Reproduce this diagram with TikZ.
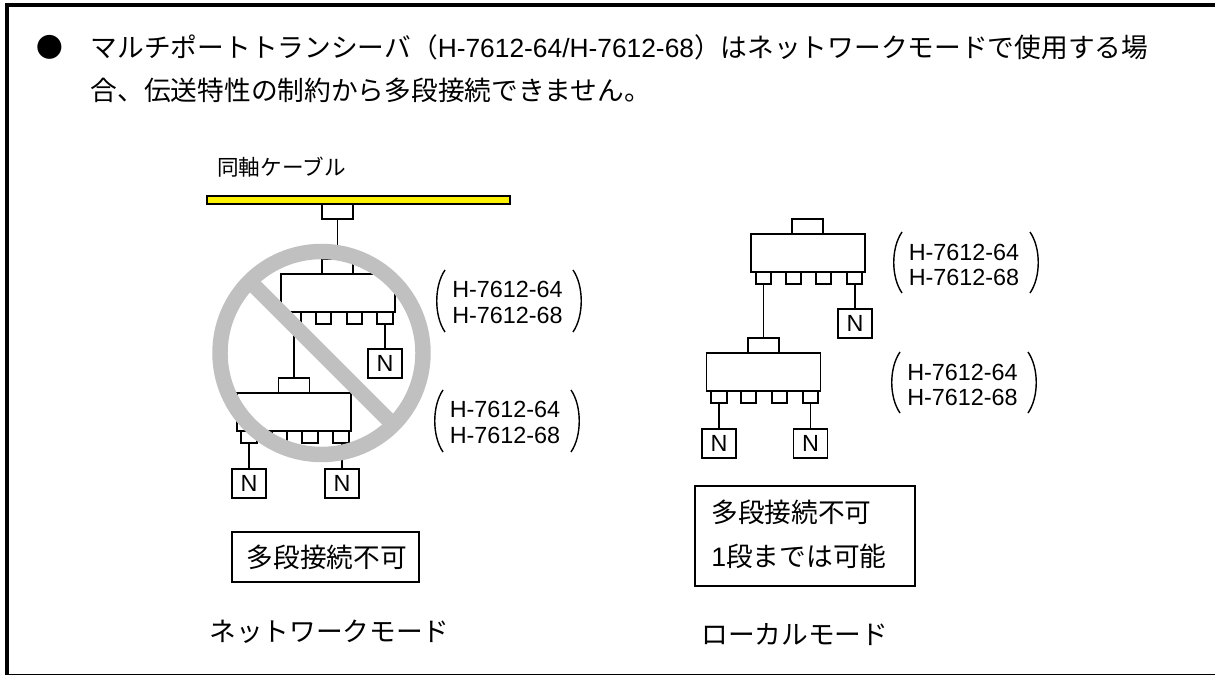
\documentclass[tikz,border=0pt]{standalone}
\usepackage{fontspec}
\setmainfont{Liberation Sans}
\newfontfamily\jp{Noto Sans CJK JP}
\definecolor{signgray}{RGB}{192,192,192}
\tikzset{
  modbox/.style={draw=black,line width=1pt,fill=white,inner sep=0pt,minimum width=2.28cm,minimum height=0.76cm},
  tabbox/.style={draw=black,line width=1pt,fill=white,inner sep=0pt,minimum width=0.62cm,minimum height=0.30cm},
  portbox/.style={draw=black,line width=1pt,fill=white,inner sep=0pt,minimum width=0.31cm,minimum height=0.24cm},
  nbox/.style={draw=black,line width=1pt,fill=white,inner sep=0pt,minimum width=0.68cm,minimum height=0.58cm,font=\fontsize{13.3}{14}\selectfont},
  notebox/.style={draw=black,line width=1pt,inner sep=0pt},
  wire/.style={draw=black,line width=1.1pt},
  paren/.style={draw=black,line width=0.8pt},
  bodytext/.style={anchor=base west,inner sep=0pt,font=\fontsize{15.2}{16}\selectfont},
  typetext/.style={inner sep=0pt,align=center,font=\fontsize{13.3}{14.6}\selectfont},
}
\begin{document}
\begin{tikzpicture}[x=0.02cm,y=-0.02cm]
\useasboundingbox (0,0) rectangle (1215,675);
% frame
\draw[line width=2.27pt] (7,675) -- (7,5) -- (1215,5);
\draw[line width=0.9pt] (7,674.5) -- (1215,674.5);
% text at the top
\node[bodytext] (bullet) at (36,57.5) {\jp ●};
\node[bodytext] (line1) at (90.5,57.5) {{\jp マルチポートトランシーバ（}{\fontsize{15}{16}\selectfont H-7612-64/H-7612-68}{\jp ）はネットワークモードで使用する場}};
\node[bodytext] (line2) at (90.5,101) {\jp 合、伝送特性の制約から多段接続できません。};
% network mode
\node[anchor=base west,inner sep=0pt,font=\fontsize{12.3}{13}\selectfont] (coaxlabel) at (217,176) {\jp 同軸ケーブル};
\node[draw=black,line width=1pt,fill=yellow,inner sep=0pt,minimum width=6.06cm,minimum height=0.16cm] (coax) at (358.5,200) {};
\node[tabbox] (tap) at (337.5,211.5) {};
\node[tabbox] (tab1) at (337.5,267) {};
\node[modbox] (mod1) at (338,293) {};
\node[portbox] (p11) at (293,318) {};
\node[portbox] (p12) at (323.5,318) {};
\node[portbox] (p13) at (354.5,318) {};
\node[portbox] (p14) at (385,318) {};
\node[nbox] (n1) at (385,363.5) {N};
\node[tabbox] (tab2) at (294,385.5) {};
\node[modbox] (mod2) at (294,412) {};
\node[portbox] (p21) at (249,437) {};
\node[portbox] (p22) at (279.5,437) {};
\node[portbox] (p23) at (310,437) {};
\node[portbox] (p24) at (341,437) {};
\node[nbox] (n2) at (249,483.5) {N};
\node[nbox] (n3) at (342,483.5) {N};
\draw[wire] (tap) -- (tab1);
\draw[wire] (p14) -- (n1);
\draw[wire] (p11.south -| tab2) -- (tab2);
\draw[wire] (p21) -- (n2);
\draw[wire] (p24.south -| n3) -- (n3);
% no entry sign
\draw[signgray,line width=8.8pt] (321.5,353) circle (101.5);
\draw[signgray,line width=8.8pt] (249.7,281.2) -- (393.3,424.8);
\node[typetext] (type1) at (507.5,302.4) {H-7612-64\\H-7612-68};
\draw[paren] (445,270) .. controls (434,286) and (434,316) .. (445,332);
\draw[paren] (573,270) .. controls (584,286) and (584,316) .. (573,332);
\node[typetext] (type2) at (505,422.3) {H-7612-64\\H-7612-68};
\draw[paren] (443,390) .. controls (432,406) and (432,436) .. (443,452);
\draw[paren] (571,390) .. controls (582,406) and (582,436) .. (571,452);
\node[notebox,minimum width=3.74cm,minimum height=1cm] (note1) at (325.5,557) {};
\node[bodytext] (note1a) at (246.5,568) {\jp 多段接続不可};
\node[bodytext] (netmode) at (209,642) {\jp ネットワークモード};
% local mode
\node[tabbox] (tab3) at (807.5,226.5) {};
\node[modbox] (mod3) at (808,253) {};
\node[portbox] (p31) at (763.5,278) {};
\node[portbox] (p32) at (793.5,278) {};
\node[portbox] (p33) at (823.5,278) {};
\node[portbox] (p34) at (854.5,278) {};
\node[nbox] (n4) at (855,323.5) {N};
\node[tabbox] (tab4) at (763.5,345.5) {};
\node[modbox] (mod4) at (763.5,372) {};
\node[portbox] (p41) at (719,397) {};
\node[portbox] (p42) at (748.5,397) {};
\node[portbox] (p43) at (779.5,397) {};
\node[portbox] (p44) at (810.5,397) {};
\node[nbox] (n5) at (719,443.5) {N};
\node[nbox] (n6) at (810.5,443.5) {N};
\draw[wire] (p31) -- (tab4);
\draw[wire] (p34.south -| n4) -- (n4);
\draw[wire] (p41) -- (n5);
\draw[wire] (p44) -- (n6);
\node[typetext] (type3) at (964,265) {H-7612-64\\H-7612-68};
\draw[paren] (902,232) .. controls (891,248) and (891,277) .. (902,293);
\draw[paren] (1030,232) .. controls (1041,248) and (1041,277) .. (1030,293);
\node[typetext] (type4) at (962.5,385) {H-7612-64\\H-7612-68};
\draw[paren] (900,352) .. controls (889,368) and (889,397) .. (900,413);
\draw[paren] (1028,352) .. controls (1039,368) and (1039,397) .. (1028,413);
\node[notebox,minimum width=4.4cm,minimum height=2cm] (note2) at (805,536) {};
\node[bodytext] (note2a) at (711,523) {\jp 多段接続不可};
\node[bodytext] (note2b) at (711,567) {1\jp 段までは可能};
\node[bodytext] (localmode) at (701,645) {\jp ローカルモード};
\end{tikzpicture}
\end{document}
